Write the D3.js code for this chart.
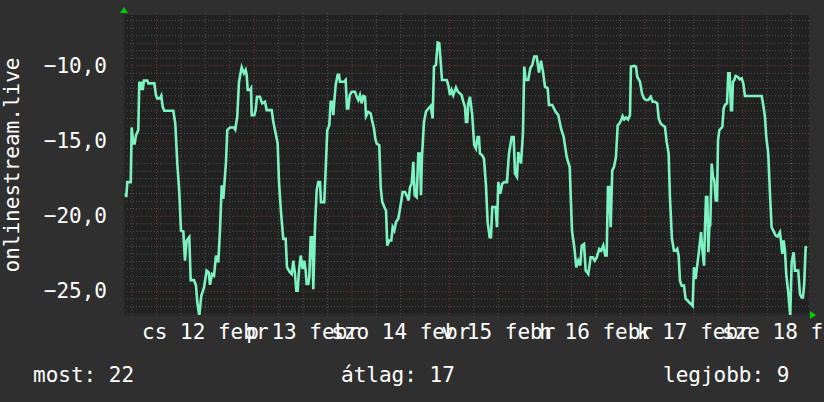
<!DOCTYPE html>
<html><head><meta charset="utf-8">
<script src="https://cdn.jsdelivr.net/npm/d3@7"></script>
<style>
html,body{margin:0;padding:0;background:#2f2f2f;}
svg{display:block;}
text{font-family:"DejaVu Sans Mono",monospace;fill:#ffffff;}
</style></head>
<body>
<svg id="chart" width="824" height="402"></svg>
<script>
// hours relative to Feb 12 00:00
const hours = [-7.45,-7.3,-7.05,-6.21,-5.97,-5.58,-5.23,-4.91,-4.35,-4.10,-3.76,-3.44,-3.27,-2.95,-2.14,-1.89,-0.42,0,0.32,0.98,1.30,1.65,2.04,4.25,4.74,5.23,5.72,6.14,6.71,7.12,7.54,8.18,8.52,9.33,9.83,10.15,10.64,11.13,11.79,12.45,12.95,13.27,13.76,14.25,14.74,15.30,15.72,16.14,16.53,17.20,17.51,18.18,19.16,19.48,19.97,20.39,21.05,21.62,22.03,22.28,22.53,23.09,23.34,23.51,24.15,24.49,24.81,25.55,25.79,26.11,26.78,27.19,28.42,28.82,29.40,29.89,30.22,30.71,31.27,31.86,32.18,32.92,33.34,33.73,34.15,34.47,34.81,35.13,35.55,36.04,36.43,36.77,37.02,37.41,37.66,38.00,38.39,38.64,39.06,39.47,39.87,40.29,40.53,41.34,41.69,42.08,42.57,42.92,43.31,43.56,43.80,44.14,44.64,44.96,45.20,46.26,46.60,46.92,47.24,47.59,48.08,48.89,49.30,49.70,50.11,50.53,50.92,51.34,51.59,52.15,52.74,53.06,53.55,53.87,54.22,54.85,55.20,55.59,56.08,56.50,56.82,57.31,57.80,58.15,58.54,58.96,59.52,59.94,60.60,61.17,61.58,62.07,62.40,62.81,63.21,63.55,64.04,64.44,64.85,65.10,65.34,65.83,66.33,66.89,67.48,67.97,68.29,68.78,69.20,69.59,69.94,70.26,71.41,71.81,72.22,72.64,73.03,73.70,74.18,75.09,75.49,75.91,76.15,76.47,76.72,77.13,77.69,78.18,78.60,79.01,79.34,79.58,80.14,80.57,81.06,81.47,81.97,82.29,82.61,83.44,83.77,84.09,84.58,85.07,85.56,86.22,86.71,87.38,87.87,88.19,88.68,89.00,89.66,90.15,90.47,90.81,91.45,91.95,92.44,92.93,93.52,94.08,94.58,95.07,95.56,96.22,96.54,97.35,98.19,98.83,99.49,100.16,100.89,101.63,102.19,102.76,103.25,103.74,104.23,104.58,105.14,105.56,106.20,106.78,107.28,107.77,108.26,108.90,109.39,109.88,110.37,110.71,111.03,111.35,111.70,112.09,112.51,113.00,113.42,113.81,114.30,114.64,115.04,115.46,115.95,116.44,116.68,117.50,117.91,118.23,118.90,119.39,119.88,120.37,120.94,121.53,122.02,122.58,123.15,123.49,123.98,124.47,125.04,125.45,125.94,126.26,126.75,127.24,127.73,128.05,128.40,128.72,129.14,129.70,130.12,130.51,131.00,131.49,131.84,132.16,132.55,132.90,133.40,133.89,134.21,134.63,134.87,135.12,135.44,135.69,135.93,136.16,136.52,136.84,137.16,137.50,137.82,138.07,138.39,138.81,139.13,139.45,139.78,140.27,140.59,140.93,141.25,141.50,141.74,142.06,142.40,142.90,143.39,143.88,144.27,144.69,148.79,149.18,149.60,149.92,150.41,150.83,151.24,151.64,152.23,152.72,153.28,153.53,153.85,154.19,154.51,154.83,155.32,155.81,156.16,156.65,156.97,157.78,158.20,158.61,158.93,159.25,159.60,159.92];
const ranks = [18.5,18.76,17.76,17.76,14.13,15.2,15.2,14.64,14.31,11.09,11.64,11.09,11.64,11.02,11.02,11.2,11.2,11.98,12.2,12.2,12.02,12.76,13.02,13.02,13.87,16.53,18.42,20.98,21.04,22.98,21.64,21.42,24.27,24.27,24.64,25.76,26.64,25.31,24.76,23.64,23.76,24.58,23.87,23.98,22.64,23.09,20.98,17.98,18.87,16.42,14.31,14.13,14.13,14.27,13.4,11.09,10.13,10.53,10.31,10.64,11.64,11.64,11.53,13.31,13.31,12.98,12.09,12.09,12.31,12.53,12.42,12.98,12.98,13.76,14.53,15.2,17.76,19.76,21.53,21.53,23.42,23.76,23.87,22.98,23.87,24.98,24.98,23.64,22.64,23.53,22.98,23.64,24.53,24.53,24.09,21.42,21.42,24.87,20.76,18.31,17.76,17.76,19.09,19.09,16.87,14.31,13.98,12.42,12.42,13.31,12.42,11.31,10.64,10.64,11.09,11.09,10.98,12.87,12.87,11.98,11.76,11.76,12.09,12.31,11.98,12.53,12.04,12.09,13.38,13.09,13.2,13.64,14.2,14.87,15.2,15.31,18.09,19.09,19.42,19.64,21.98,21.64,21.64,20.76,20.98,20.42,20.2,19.53,18.42,18.42,18.64,18.98,18.09,17.87,16.42,18.64,18.76,15.87,15.87,18.64,16.09,13.76,13.09,12.87,12.71,13.53,10.09,9.98,8.49,8.53,9.76,10.98,10.98,11.31,11.98,11.64,11.98,11.47,11.76,11.98,12.42,12.76,13.76,13.76,12.53,12.09,13.31,15.31,15.53,14.76,14.76,15.87,15.98,16.2,17.98,20.42,21.42,21.42,19.42,19.42,20.76,17.76,18.53,17.87,17.76,17.76,15.87,14.76,14.76,17.2,17.42,15.76,16.53,14.53,10.09,10.98,10.98,10.2,9.98,9.42,9.42,10.49,9.69,10.42,11.42,11.53,12.64,12.64,13.09,13.31,14.2,14.76,16.09,16.76,20.98,22.09,23.42,22.98,23.3,21.98,21.87,23.64,23.87,22.76,22.76,22.98,22.76,22.2,22.31,21.98,22.64,22.64,18.09,18.09,20.76,16.98,16.76,16.09,13.98,13.87,13.64,13.38,13.6,13.47,13.6,13.31,10.09,10.04,10.09,10.76,11.09,11.87,12.2,12.31,12.31,12.09,12.42,12.42,12.53,13.53,13.87,13.98,14.09,15.09,15.87,18.76,21.53,22.31,22.31,22.2,22.64,24.31,24.64,24.64,25.53,25.6,25.76,25.87,25.98,23.42,24.2,23.42,22.31,21.09,22.2,23.31,20.76,18.76,18.76,22.42,20.76,20.64,16.53,17.42,17.64,18.98,18.98,14.98,14.31,14.2,14.09,12.87,12.64,12.53,10.53,10.53,12.98,12.98,11.09,10.98,10.71,10.76,10.93,10.87,11.2,12.04,12.04,12.64,13.42,14.76,15.87,18.53,20.76,20.98,21.31,21.38,21.09,21.64,22.53,21.64,22.31,23.87,25.09,26.64,23.09,22.42,23.64,23.64,25.2,25.42,25.42,24.53,22.09,22.04];

const yTicks = [-10, -15, -20, -25];
const dayHours = [0, 24, 48, 72, 96, 120, 144];
const labelHours = [12, 36, 60, 84, 108, 132, 156];
const xLabels = ["cs 12 febr", "p 13 febr", "szo 14 febr", "v 15 febr", "h 16 febr", "k 17 febr", "sze 18 febr"];
const yTitle = "onlinestream.live";
const legendItems = ["most: 22", "átlag: 17", "legjobb: 9"];

const L = 124, R = 809, T = 15, B = 315;
const svg = d3.select("#chart");
svg.append("rect").attr("width", 824).attr("height", 402).attr("fill", "#2f2f2f");
svg.append("rect").attr("x", L).attr("y", T).attr("width", R - L).attr("height", B - T).attr("fill", "#212121");

const x = d3.scaleLinear().domain([-7.86, 160.42]).range([L, R]);
const y = d3.scaleLinear().domain([-26.59, -6.66]).range([B, T]);

const minorY = d3.range(-26.5, -6.6, 0.5).filter(v => Math.abs(v % 5) > 1e-6);
const minorX = d3.range(-6, 160.5, 6).filter(h => h % 24 !== 0);

// minor grid
const gGrid = svg.append("g");
gGrid.append("g").attr("transform", `translate(${L},0)`)
  .call(d3.axisLeft(y).tickValues(minorY).tickSize(-(R - L)).tickFormat(""))
  .call(g => g.select(".domain").remove())
  .selectAll("line").attr("stroke", "#525252").attr("stroke-dasharray", "1,2");
gGrid.append("g").attr("transform", `translate(0,${B + 2})`)
  .call(d3.axisBottom(x).tickValues(minorX).tickSize(-(B - T + 4)).tickFormat(""))
  .call(g => g.select(".domain").remove())
  .selectAll("line").attr("stroke", "#525252").attr("stroke-dasharray", "1,2");
// major grid
gGrid.append("g").attr("transform", `translate(${L},0)`)
  .call(d3.axisLeft(y).tickValues(yTicks).tickSize(-(R - L)).tickFormat(""))
  .call(g => g.select(".domain").remove())
  .selectAll("line").attr("stroke", "#7a3636").attr("stroke-dasharray", "1,2");
gGrid.append("g").attr("transform", `translate(0,${B + 2})`)
  .call(d3.axisBottom(x).tickValues(dayHours).tickSize(-(B - T + 4)).tickFormat(""))
  .call(g => g.select(".domain").remove())
  .selectAll("line").attr("stroke", "#7a3636").attr("stroke-dasharray", "1,2");

// axis lines (dark)
svg.append("line").attr("x1", L).attr("x2", R + 2).attr("y1", B).attr("y2", B).attr("stroke", "#2a2a2a").attr("stroke-width", 2);
svg.append("line").attr("x1", L).attr("x2", L).attr("y1", T - 2).attr("y2", B).attr("stroke", "#2a2a2a").attr("stroke-width", 2);

// data line
svg.append("clipPath").attr("id", "clip").append("rect").attr("x", L).attr("y", T).attr("width", R - L).attr("height", B - T);
const pts = hours.map((h, i) => [h, -ranks[i]]);
svg.append("path").datum(pts)
  .attr("clip-path", "url(#clip)")
  .attr("fill", "none").attr("stroke", "#7ef3c2").attr("stroke-width", 2.6)
  .attr("stroke-linejoin", "miter")
  .attr("d", d3.line().x(d => x(d[0])).y(d => y(d[1])));

// y axis labels
svg.append("g").attr("transform", `translate(${L},0)`)
  .call(d3.axisLeft(y).tickValues(yTicks).tickSize(0).tickPadding(17)
    .tickFormat(d => d3.format(".1f")(d).replace(".", ",")))
  .call(g => g.select(".domain").remove())
  .selectAll("text").attr("font-size", 21).attr("font-family", "DejaVu Sans Mono").attr("fill", "#fff");

// x axis labels
svg.append("g").attr("transform", `translate(0,${B})`)
  .call(d3.axisBottom(x).tickValues(labelHours).tickSize(0).tickPadding(9)
    .tickFormat((d, i) => xLabels[i]))
  .call(g => g.select(".domain").remove())
  .selectAll("text").attr("font-size", 21).attr("font-family", "DejaVu Sans Mono").attr("fill", "#fff");

// y title
svg.append("text").attr("transform", `translate(19,${(T + B) / 2}) rotate(-90)`)
  .attr("text-anchor", "middle").attr("font-size", 21).text(yTitle);

// legend
const legendX = [33, 341, 663];
svg.selectAll(".leg").data(legendItems).join("text").attr("class", "leg")
  .attr("x", (d, i) => legendX[i]).attr("y", 382).attr("font-size", 21).text(d => d);

// arrows
svg.append("path").attr("d", `M${L - 4},13 L${L + 4},13 L${L},7 Z`).attr("fill", "#00cc00");
svg.append("path").attr("d", `M${R + 1},${B - 4} L${R + 1},${B + 4} L${R + 7},${B} Z`).attr("fill", "#00cc00");
</script>
</body></html>
